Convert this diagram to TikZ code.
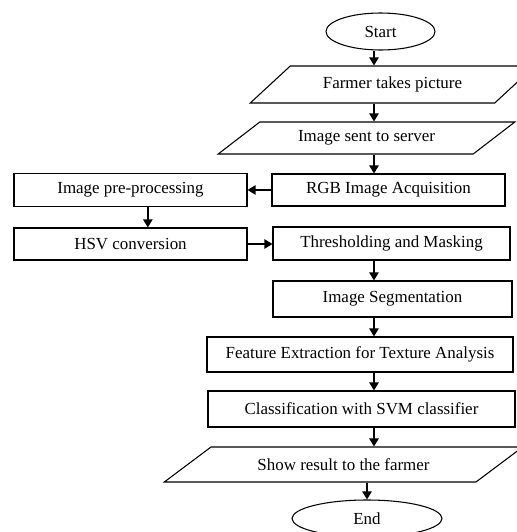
\documentclass[tikz,border=0pt]{standalone}
\usepackage{fontspec}
\setmainfont{Liberation Serif}
\usetikzlibrary{arrows.meta,shapes.geometric}
\newcommand{\flowfont}{\fontsize{12.7}{15}\selectfont}
\tikzset{
  stepbox/.style={rectangle,draw,line width=0.8pt,align=center,inner sep=2pt,font=\flowfont},
  terminal/.style={ellipse,draw,line width=0.8pt,align=center,inner sep=1pt,font=\flowfont},
  inout/.style={trapezium,draw,line width=0.8pt,align=center,inner sep=1pt,trapezium stretches=true,font=\flowfont},
  arrow/.style={-{Triangle[length=6pt,width=7pt]},line width=1pt}
}

\begin{document}
\begin{tikzpicture}[x=0.75pt,y=-0.75pt]
    \useasboundingbox (0,0) rectangle (517,532);
    \coordinate (axis) at (374,0);
    % main column
    \node[terminal,minimum width=81.75pt,minimum height=27.75pt] (start) at (380.5,31.5) {Start};
    \node[inout,trapezium left angle=33,trapezium right angle=147,minimum width=213.75pt,minimum height=27.75pt] (farmer) at (392.5,84.5) {Farmer takes picture};
    \node[inout,trapezium left angle=32.6,trapezium right angle=147.4,minimum width=222.75pt,minimum height=24pt] (sent) at (366.5,138) {Image sent to server};
    \node[stepbox,minimum width=174.75pt,minimum height=24pt] (rgb) at (388.5,190) {RGB Image Acquisition};
    \node[stepbox,minimum width=177.75pt,minimum height=24.75pt] (thresh) at (391.5,243.5) {Thresholding and Masking};
    \node[stepbox,minimum width=179.25pt,minimum height=27pt] (segment) at (392.5,299) {Image Segmentation};
    \node[stepbox,minimum width=229.5pt,minimum height=26.25pt] (feature) at (360,354.5) {Feature Extraction for Texture Analysis};
    \node[stepbox,minimum width=230.25pt,minimum height=27pt] (classify) at (361.5,409) {Classification with SVM classifier};
    \node[inout,trapezium left angle=25.6,trapezium right angle=154.4,minimum width=269.25pt,minimum height=26.25pt] (show) at (343.5,464.5) {Show result to the farmer};
    \node[terminal,minimum width=112.5pt,minimum height=27.75pt] (end) at (367,518.5) {End};
    % side branch
    \node[stepbox,minimum width=174.75pt,minimum height=24.75pt] (preproc) at (130.5,190) {Image pre-processing};
    \node[stepbox,minimum width=174.75pt,minimum height=24pt] (hsv) at (130.5,244) {HSV conversion};

    \draw[arrow] (start.south -| axis) -- (farmer.north -| axis);
    \draw[arrow] (farmer.south -| axis) -- (sent.north -| axis);
    \draw[arrow] (sent.south -| axis) -- (rgb.north -| axis);
    \draw[arrow] (rgb.west) -- (preproc.east);
    \draw[arrow] ([xshift=13pt]preproc.south) -- ([xshift=13pt]hsv.north);
    \draw[arrow] (hsv.east) -- (thresh.west |- hsv.east);
    \draw[arrow] (thresh.south -| axis) -- (segment.north -| axis);
    \draw[arrow] (segment.south -| axis) -- (feature.north -| axis);
    \draw[arrow] (feature.south -| axis) -- (classify.north -| axis);
    \draw[arrow] (classify.south -| axis) -- (show.north -| axis);
    \draw[arrow] (show.south -| end.north) -- (end.north);
  \end{tikzpicture}
\end{document}
